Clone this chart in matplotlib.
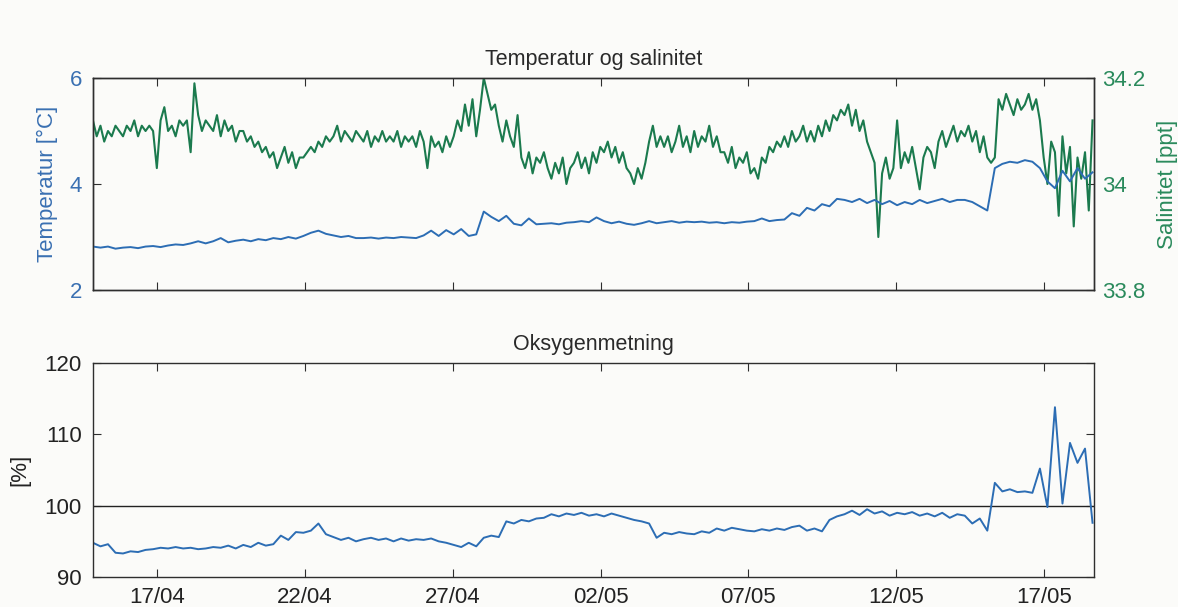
import matplotlib
matplotlib.use("Agg")
import matplotlib.pyplot as plt
import matplotlib.dates as mdates
import pandas as pd

# ---------------- data ----------------
start_time = "2019-04-14 20:00"
end_time = "2019-05-18 16:30"

# Salinity [ppt], ~3-hourly samples
salinity = [
    34.12, 34.09, 34.11, 34.08, 34.10, 34.09, 34.11, 34.10,
    34.09, 34.11, 34.10, 34.12, 34.09, 34.11, 34.10, 34.11,
    34.10, 34.03, 34.12, 34.145, 34.10, 34.11, 34.09, 34.12,
    34.11, 34.12, 34.06, 34.19, 34.13, 34.10, 34.12, 34.11,
    34.10, 34.13, 34.09, 34.12, 34.10, 34.11, 34.08, 34.10,
    34.10, 34.08, 34.09, 34.07, 34.08, 34.06, 34.07, 34.05,
    34.06, 34.03, 34.05, 34.07, 34.04, 34.06, 34.03, 34.05,
    34.05, 34.06, 34.07, 34.06, 34.08, 34.07, 34.09, 34.08,
    34.09, 34.11, 34.08, 34.10, 34.09, 34.08, 34.10, 34.09,
    34.08, 34.10, 34.07, 34.09, 34.08, 34.10, 34.08, 34.09,
    34.08, 34.10, 34.07, 34.09, 34.08, 34.09, 34.07, 34.10,
    34.08, 34.03, 34.09, 34.07, 34.08, 34.06, 34.09, 34.07,
    34.09, 34.12, 34.10, 34.15, 34.11, 34.16, 34.09, 34.14,
    34.20, 34.17, 34.14, 34.15, 34.11, 34.08, 34.12, 34.09,
    34.07, 34.13, 34.05, 34.03, 34.06, 34.02, 34.05, 34.04,
    34.06, 34.03, 34.01, 34.04, 34.02, 34.05, 34.00, 34.03,
    34.04, 34.06, 34.03, 34.05, 34.02, 34.06, 34.04, 34.07,
    34.06, 34.08, 34.05, 34.07, 34.04, 34.06, 34.03, 34.02,
    34.00, 34.03, 34.01, 34.04, 34.08, 34.11, 34.07, 34.09,
    34.07, 34.09, 34.06, 34.08, 34.11, 34.07, 34.09, 34.06,
    34.10, 34.07, 34.09, 34.08, 34.11, 34.07, 34.09, 34.06,
    34.06, 34.04, 34.07, 34.03, 34.05, 34.04, 34.06, 34.02,
    34.03, 34.01, 34.05, 34.04, 34.07, 34.06, 34.08, 34.07,
    34.09, 34.07, 34.10, 34.08, 34.09, 34.11, 34.08, 34.10,
    34.08, 34.11, 34.09, 34.12, 34.10, 34.13, 34.12, 34.14,
    34.13, 34.15, 34.11, 34.14, 34.10, 34.12, 34.08, 34.06,
    34.04, 33.90, 34.02, 34.05, 34.01, 34.03, 34.12, 34.03,
    34.06, 34.04, 34.07, 34.03, 33.99, 34.05, 34.07, 34.06,
    34.03, 34.08, 34.10, 34.07, 34.09, 34.11, 34.08, 34.10,
    34.09, 34.11, 34.08, 34.10, 34.06, 34.09, 34.05, 34.04,
    34.05, 34.16, 34.14, 34.17, 34.15, 34.13, 34.16, 34.14,
    34.15, 34.17, 34.14, 34.16, 34.12, 34.05, 34.00, 34.08,
    34.06, 33.94, 34.09, 34.02, 34.07, 33.92, 34.05, 34.01,
    34.06, 33.95, 34.12,
]

# Temperature [degC], ~6-hourly samples
temperature = [
    2.82, 2.80, 2.82, 2.78,
    2.80, 2.81, 2.79, 2.82,
    2.83, 2.81, 2.84, 2.86,
    2.85, 2.88, 2.92, 2.88,
    2.92, 2.98, 2.90, 2.93,
    2.95, 2.92, 2.96, 2.94,
    2.98, 2.96, 3.00, 2.97,
    3.02, 3.08, 3.12, 3.06,
    3.03, 3.00, 3.02, 2.98,
    2.98, 2.99, 2.97, 2.99,
    2.98, 3.00, 2.99, 2.98,
    3.03, 3.12, 3.02, 3.13,
    3.05, 3.15, 3.02, 3.05,
    3.48, 3.38, 3.30, 3.40,
    3.25, 3.22, 3.35, 3.24,
    3.25, 3.26, 3.24, 3.27,
    3.28, 3.30, 3.28, 3.37,
    3.30, 3.26, 3.29, 3.25,
    3.23, 3.26, 3.30, 3.26,
    3.28, 3.30, 3.27, 3.29,
    3.28, 3.29, 3.27, 3.28,
    3.26, 3.28, 3.27, 3.29,
    3.30, 3.35, 3.30, 3.32,
    3.33, 3.45, 3.40, 3.55,
    3.50, 3.62, 3.58, 3.72,
    3.70, 3.66, 3.72, 3.64,
    3.70, 3.62, 3.68, 3.60,
    3.66, 3.62, 3.70, 3.64,
    3.68, 3.72, 3.66, 3.70,
    3.70, 3.66, 3.58, 3.50,
    4.30, 4.38, 4.42, 4.40,
    4.45, 4.42, 4.30, 4.05,
    3.92, 4.25, 4.05, 4.30,
    4.10, 4.22,
]

# Oxygen saturation [%], ~6-hourly samples
oxygen = [
    94.8, 94.3, 94.6, 93.4,
    93.3, 93.6, 93.5, 93.8,
    93.9, 94.1, 94.0, 94.2,
    94.0, 94.1, 93.9, 94.0,
    94.2, 94.1, 94.4, 94.0,
    94.5, 94.2, 94.8, 94.4,
    94.6, 95.8, 95.2, 96.3,
    96.2, 96.5, 97.5, 96.0,
    95.6, 95.2, 95.5, 95.0,
    95.3, 95.5, 95.2, 95.4,
    95.0, 95.4, 95.1, 95.3,
    95.2, 95.4, 95.0, 94.8,
    94.5, 94.2, 94.8, 94.3,
    95.5, 95.8, 95.6, 97.8,
    97.5, 98.0, 97.8, 98.2,
    98.3, 98.8, 98.5, 98.9,
    98.7, 99.0, 98.6, 98.8,
    98.5, 98.9, 98.6, 98.3,
    98.0, 97.8, 97.5, 95.5,
    96.2, 96.0, 96.3, 96.1,
    96.0, 96.4, 96.2, 96.8,
    96.5, 96.9, 96.7, 96.5,
    96.4, 96.7, 96.5, 96.8,
    96.6, 97.0, 97.2, 96.5,
    96.8, 96.4, 98.0, 98.5,
    98.8, 99.3, 98.7, 99.5,
    98.9, 99.2, 98.6, 99.0,
    98.8, 99.1, 98.6, 98.9,
    98.5, 99.0, 98.3, 98.8,
    98.6, 97.5, 98.2, 96.5,
    103.2, 102.0, 102.3, 101.9,
    102.0, 101.8, 105.2, 99.8,
    113.8, 100.3, 108.8, 106.0,
    108.0, 97.6,
]

tick_labels = ["17/04", "22/04", "27/04", "02/05", "07/05", "12/05", "17/05"]
tick_dates = pd.to_datetime(["2019-04-17", "2019-04-22", "2019-04-27", "2019-05-02",
                             "2019-05-07", "2019-05-12", "2019-05-17"])

t_sal = pd.date_range(start_time, periods=len(salinity), freq="183min")
t_temp = pd.date_range(start_time, periods=len(temperature), freq="366min")
t_oxy = pd.date_range(start_time, periods=len(oxygen), freq="366min")

# ---------------- styling ----------------
plt.rcParams["font.family"] = ["Liberation Sans", "DejaVu Sans"]
BLUE = "#2c6db4"
BLUE_TXT = "#3a70b2"
GREEN = "#1b7a4e"
GREEN_TXT = "#2a8a5c"
AX_COL = "#2e2e2e"
BG = "#fbfbf9"
FS_TICK = 16
FS_LAB = 16
FS_TITLE = 15.5

fig = plt.figure(figsize=(11.78, 6.07), dpi=100, facecolor=BG)
x0, x1 = pd.Timestamp(start_time), pd.Timestamp(end_time)

# ---- top panel ----
ax_t = fig.add_axes([0.0789, 0.5222, 0.8498, 0.3493])
ax_s = ax_t.twinx()
ax_t.set_zorder(ax_s.get_zorder() + 1)
ax_t.patch.set_visible(False)
ax_s.set_facecolor(BG)

ax_s.plot(t_sal, salinity, color=GREEN, lw=1.5)
ax_t.plot(t_temp, temperature, color=BLUE, lw=1.4)

ax_t.set_xlim(x0, x1)
ax_t.set_ylim(2, 6)
ax_t.set_yticks([2, 4, 6])
ax_s.set_ylim(33.8, 34.2)
ax_s.set_yticks([33.8, 34.0, 34.2])
ax_s.set_yticklabels(["33.8", "34", "34.2"])
ax_t.set_xticks(tick_dates)
ax_t.set_xticklabels([])
ax_t.tick_params(axis="x", direction="in", top=True, length=6, color=AX_COL)
ax_t.tick_params(axis="y", direction="in", length=6, labelsize=FS_TICK, colors=BLUE_TXT, pad=8)
ax_t.tick_params(axis="y", color=AX_COL)
ax_s.tick_params(axis="y", direction="in", length=6, labelsize=FS_TICK, colors=GREEN_TXT, pad=6)
ax_s.tick_params(axis="y", color=AX_COL)
ax_t.set_ylabel("Temperatur [°C]", color=BLUE_TXT, fontsize=FS_LAB, labelpad=8)
ax_s.set_ylabel("Salinitet [ppt]", color=GREEN_TXT, fontsize=FS_LAB, labelpad=8)
ax_t.set_title("Temperatur og salinitet", fontsize=FS_TITLE, color="#2a2a2a", pad=9)
for a in (ax_t, ax_s):
    for sp in a.spines.values():
        sp.set_color(AX_COL)
        sp.set_linewidth(1.0)

# ---- bottom panel ----
ax_o = fig.add_axes([0.0789, 0.0494, 0.8498, 0.3526], facecolor=BG)
ax_o.axhline(100, color="#222222", lw=1.0)
ax_o.plot(t_oxy, oxygen, color=BLUE, lw=1.4)
ax_o.set_xlim(x0, x1)
ax_o.set_ylim(90, 120)
ax_o.set_yticks([90, 100, 110, 120])
ax_o.set_xticks(tick_dates)
ax_o.set_xticklabels(tick_labels)
ax_o.tick_params(axis="both", direction="in", top=True, right=True, length=6,
                 labelsize=FS_TICK, color=AX_COL, labelcolor="#222222")
ax_o.tick_params(axis="x", pad=7)
ax_o.tick_params(axis="y", pad=8)
ax_o.set_ylabel("[%]", fontsize=FS_LAB, color="#222222", labelpad=10)
ax_o.set_title("Oksygenmetning", fontsize=FS_TITLE, color="#2a2a2a", pad=9)
for sp in ax_o.spines.values():
    sp.set_color(AX_COL)
    sp.set_linewidth(1.0)

fig.savefig("out.png", dpi=100, facecolor=BG)
